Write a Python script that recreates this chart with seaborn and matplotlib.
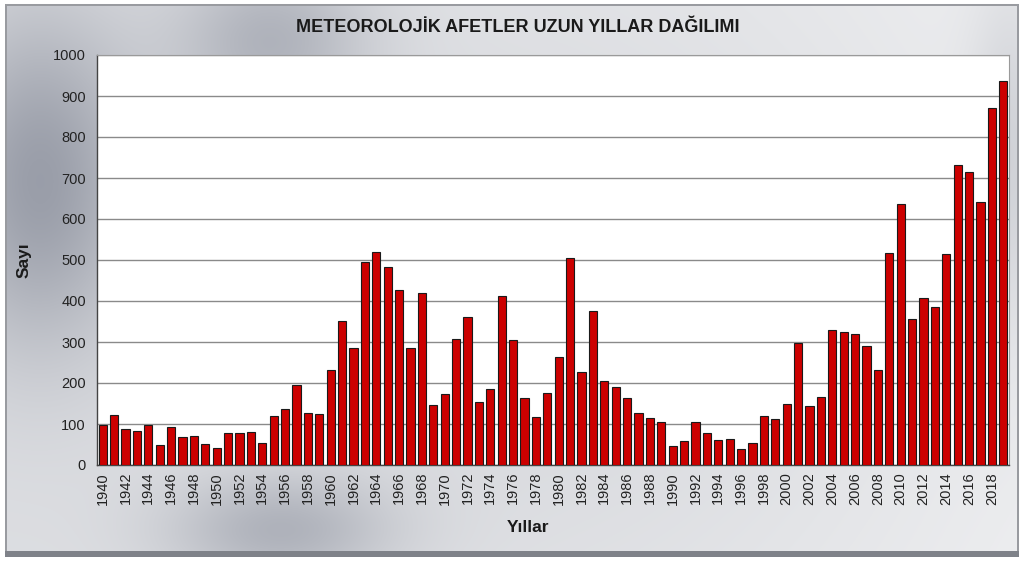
import numpy as np
import pandas as pd
import matplotlib
matplotlib.use("Agg")
import matplotlib.pyplot as plt
import seaborn as sns

years = list(range(1940, 2020))
counts = [98, 121, 87, 84, 97, 49, 93, 69, 71, 51,
          41, 77, 77, 81, 53, 120, 137, 195, 128, 124,
          232, 352, 286, 496, 520, 484, 428, 286, 420, 146,
          172, 308, 362, 154, 185, 412, 305, 163, 118, 176,
          263, 504, 228, 376, 206, 191, 164, 128, 114, 104,
          46, 58, 104, 79, 61, 63, 39, 53, 120, 112,
          148, 297, 145, 165, 329, 325, 319, 290, 232, 518,
          637, 357, 407, 385, 514, 732, 714, 641, 871, 937]
y_ticks = [0, 100, 200, 300, 400, 500, 600, 700, 800, 900, 1000]

title = "METEOROLOJİK AFETLER UZUN YILLAR DAĞILIMI"
x_label = "Yıllar"
y_label = "Sayı"

sns.set_style("white")
plt.rcParams['font.family'] = ['Liberation Sans', 'DejaVu Sans']

W, H = 1022, 561
fig = plt.figure(figsize=(W / 100, H / 100), dpi=100, facecolor="white")

# background gradient panel (decorative)
bg = fig.add_axes([0, 0, 1, 1], zorder=0)
yy, xx = np.mgrid[0:H, 0:W].astype(float)


def blob(cx, cy, sx, sy):
    return np.exp(-((xx - cx) ** 2) / (2 * sx ** 2) - ((yy - cy) ** 2) / (2 * sy ** 2))


val = 0.87 + 0.07 * (xx / W)
val -= 0.26 * blob(40, 180, 70, 120)
val -= 0.18 * blob(270, 40, 70, 60)
val -= 0.18 * blob(280, 530, 80, 40)
val -= 0.10 * blob(1010, 150, 30, 120)
val -= 0.06 * blob(600, 300, 300, 250)
val = np.clip(val, 0, 1)
img = np.stack([val,
                np.clip(val + 0.04 * (1 - val), 0, 1),
                np.clip(val + 0.15 * (1 - val), 0, 1)], axis=-1)
# card border and outer margin
img[:4, :] = 1.0
img[:, :5] = 1.0
img[:, W - 4:] = 1.0
img[4:6, 5:W - 4] = [0.6, 0.61, 0.63]
img[4:556, 5:7] = [0.6, 0.61, 0.63]
img[4:556, W - 6:W - 4] = [0.6, 0.61, 0.63]
img[551:557, 5:W - 4] = [0.5, 0.51, 0.54]
img[557:, :] = 1.0
bg.imshow(img, aspect='auto', extent=[0, 1, 0, 1], origin='upper')
bg.set_axis_off()

ax = fig.add_axes([97 / W, 1 - 465 / H, 912 / W, 410 / H], zorder=1)
df = pd.DataFrame({"Yıl": [str(y) for y in years], "Sayı": counts})
sns.barplot(data=df, x="Yıl", y="Sayı", color="#cc0000", saturation=1,
            width=0.72, edgecolor="#1a1a1a", linewidth=0.8, ax=ax, zorder=3)

ax.set_facecolor("white")
ax.set_ylim(0, 1000)
ax.set_xlim(-0.5, len(years) - 0.5)
ax.set_yticks(y_ticks)
ax.set_yticklabels([str(t) for t in y_ticks], fontsize=10.5, color="#222222")
ax.yaxis.grid(True, color="#8a8a8a", linewidth=1.0, zorder=0)
ax.set_axisbelow(True)

ax.set_xticks(range(0, len(years), 2))
ax.set_xticklabels([str(y) for y in years[::2]], rotation=90, fontsize=10.5, color="#222222")
ax.set_xticks(np.arange(-0.5, len(years), 1), minor=True)
ax.tick_params(axis='x', which='major', length=0, pad=5)
ax.tick_params(axis='x', which='minor', length=4, color="#555555", width=0.8)
ax.tick_params(axis='y', which='major', length=4, color="#555555", width=0.8, pad=4)

for s in ["top", "right"]:
    ax.spines[s].set_color("#9a9a9a")
    ax.spines[s].set_linewidth(0.8)
for s in ["left", "bottom"]:
    ax.spines[s].set_color("#444444")
    ax.spines[s].set_linewidth(1.0)

ax.set_xlabel(x_label, fontsize=12.5, fontweight='bold', color="#1a1a1a")
ax.xaxis.set_label_coords(0.473, -0.135)
ax.set_ylabel(y_label, fontsize=12.5, fontweight='bold', color="#1a1a1a")
ax.yaxis.set_label_coords(-0.072, 0.5)

fig.text(518 / W, 1 - 28 / H, title, ha='center', va='center',
         fontsize=13, fontweight='bold', color="#1a1a1a")

fig.savefig("out.png", dpi=100, facecolor="white")
